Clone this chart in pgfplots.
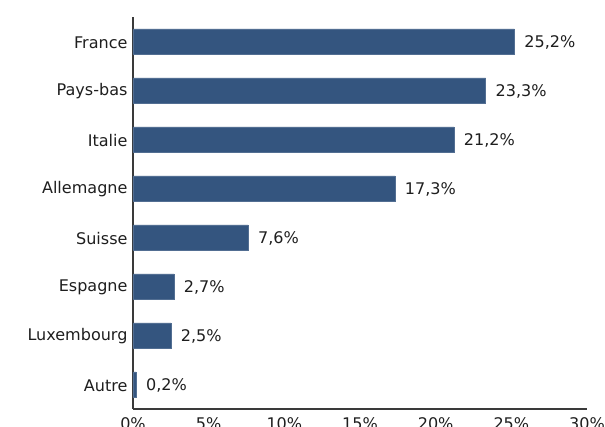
\documentclass[border=0pt]{standalone}
\usepackage{fontspec}
\setmainfont{DejaVu Sans}
\usepackage{pgfplots}
\pgfplotsset{compat=1.18}
\definecolor{barblue}{HTML}{34557F}
\definecolor{axisgray}{HTML}{3A3A3A}
\definecolor{txt}{HTML}{1E1E1E}
\begin{document}
\begin{tikzpicture}
\useasboundingbox (-133bp,-18bp) rectangle (472bp,409bp);
\clip (-133bp,-18bp) rectangle (472bp,409bp);
\begin{axis}[
  scale only axis,
  width=454bp, height=392bp,
  xmin=0, xmax=30, ymin=-0.5, ymax=7.5,
  xbar, bar width=25bp,
  axis lines=left,
  axis line style={-, draw=axisgray, line width=1.3bp},
  xtick={0,5,10,15,20,25,30},
  xticklabel={\pgfmathprintnumber{\tick}\%},
  ytick={0,1,2,3,4,5,6,7},
  yticklabels={Autre,Luxembourg,Espagne,Suisse,Allemagne,Italie,Pays-bas,France},
  major tick length=0pt,
  /pgf/number format/assume math mode=true,
  ticklabel style={font=\fontsize{16.1}{18}\selectfont, text=txt},
  xticklabel style={yshift=-5bp},
  yticklabel style={xshift=-2bp, yshift=-1bp},
  point meta=x,
  nodes near coords={\pgfmathprintnumber[fixed,fixed zerofill,precision=1,use comma,assume math mode=true]{\pgfplotspointmeta}\%},
  nodes near coords style={font=\fontsize{16.1}{18}\selectfont, text=txt, anchor=west, xshift=6.5bp, yshift=-0.5bp},
]
\addplot[fill=barblue, draw=barblue!85!white, line width=0.5bp] coordinates {
  (0.2,0) (2.5,1) (2.7,2) (7.6,3) (17.3,4) (21.2,5) (23.3,6) (25.2,7)
};
\end{axis}
\end{tikzpicture}
\end{document}
